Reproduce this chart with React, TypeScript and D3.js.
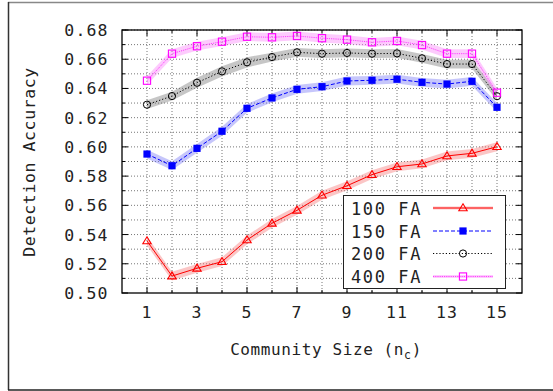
import React from "react";
import * as d3 from "d3";

const communitySizes = [1, 2, 3, 4, 5, 6, 7, 8, 9, 10, 11, 12, 13, 14, 15];
const fa100 = [0.5356, 0.5116, 0.5169, 0.5214, 0.5363, 0.5477, 0.5566, 0.5669, 0.5734, 0.5810, 0.5864, 0.5883, 0.5938, 0.5956, 0.6001];
const fa150 = [0.5951, 0.5871, 0.5990, 0.6107, 0.6264, 0.6335, 0.6394, 0.6412, 0.6451, 0.6456, 0.6463, 0.6442, 0.6430, 0.6449, 0.6271];
const fa200 = [0.6289, 0.6348, 0.6439, 0.6517, 0.6579, 0.6615, 0.6647, 0.6638, 0.6643, 0.6638, 0.6640, 0.6606, 0.6567, 0.6567, 0.6347];
const fa400 = [0.6453, 0.6638, 0.6689, 0.6720, 0.6754, 0.6750, 0.6759, 0.6744, 0.6734, 0.6716, 0.6725, 0.6697, 0.6638, 0.6638, 0.6371];
const err100 = [0.003, 0.003, 0.003, 0.003, 0.003, 0.003, 0.003, 0.003, 0.003, 0.003, 0.003, 0.003, 0.003, 0.003, 0.003];
const err150 = [0.003, 0.003, 0.003, 0.003, 0.003, 0.003, 0.003, 0.003, 0.003, 0.003, 0.003, 0.003, 0.003, 0.003, 0.003];
const err200 = [0.003, 0.003, 0.0035, 0.0035, 0.0035, 0.003, 0.003, 0.003, 0.003, 0.003, 0.003, 0.003, 0.003, 0.003, 0.003];
const err400 = [0.003, 0.003, 0.003, 0.003, 0.003, 0.003, 0.003, 0.003, 0.003, 0.003, 0.003, 0.003, 0.003, 0.003, 0.003];
const seriesNames = ["100 FA", "150 FA", "200 FA", "400 FA"];
const xTickLabels = [1, 3, 5, 7, 9, 11, 13, 15];
const yTickLabels = [0.5, 0.52, 0.54, 0.56, 0.58, 0.6, 0.62, 0.64, 0.66, 0.68];

const FONT = "'DejaVu Sans Mono', monospace";

const styles = [
  { color: "#ff0000", band: "rgba(245,120,120,0.42)", dash: "none", marker: "triangle", lineColor: "#ff0000", legendBand: true },
  { color: "#0000ff", band: "rgba(120,120,245,0.42)", dash: "4,2", marker: "square", lineColor: "#0000ff", legendBand: false },
  { color: "#000000", band: "rgba(120,120,120,0.42)", dash: "1.2,2", marker: "circle", lineColor: "#000000", legendBand: false },
  { color: "#ff00ff", band: "rgba(250,130,250,0.42)", dash: "1.2,1", marker: "opensquare", lineColor: "#ff40ff", legendBand: true },
];

function Marker({ type, x, y, color }: { type: string; x: number; y: number; color: string }) {
  const s = 3.6;
  if (type === "triangle") {
    return <path d={`M${x},${y - s - 0.6}L${x + s + 0.6},${y + s - 0.8}L${x - s - 0.6},${y + s - 0.8}Z`} fill="none" stroke={color} strokeWidth={1.1} />;
  }
  if (type === "square") {
    return <rect x={x - s} y={y - s} width={2 * s} height={2 * s} fill={color} />;
  }
  if (type === "circle") {
    return <circle cx={x} cy={y} r={s} fill="none" stroke={color} strokeWidth={1} />;
  }
  return <rect x={x - s} y={y - s} width={2 * s} height={2 * s} fill="none" stroke={color} strokeWidth={1.1} />;
}

export default function App() {
  const W = 553, H = 391;
  const left = 122, right = 522, top = 30, bottom = 293;
  const x = d3.scaleLinear().domain([0, 16]).range([left, right]);
  const y = d3.scaleLinear().domain([0.5, 0.68]).range([bottom, top]);

  const data = [fa100, fa150, fa200, fa400];
  const errs = [err100, err150, err200, err400];

  const line = d3.line<number>().x((_, i) => x(communitySizes[i])).y((v) => y(v));
  const area = (vals: number[], e: number[]) =>
    d3.area<number>()
      .x((_, i) => x(communitySizes[i]))
      .y0((v, i) => y(v - e[i]))
      .y1((v, i) => y(v + e[i]))(vals) || "";

  const gridX = d3.range(1, 16);
  const gridY = d3.range(0.51, 0.6801, 0.01);
  const minorY = d3.range(0.51, 0.68, 0.02);

  const legendRows = [208, 231, 253.5, 276.5];

  return (
    <svg width={W} height={H} style={{ position: "absolute", left: 0, top: 0 }} fontFamily={FONT}>
      <rect x={0} y={0} width={W} height={H} fill="#fff" />
      <line x1={8} y1={2.5} x2={W} y2={2.5} stroke="#888" strokeWidth={1.5} />
      <line x1={8.5} y1={2} x2={8.5} y2={390} stroke="#333" strokeWidth={1.5} />
      <line x1={8} y1={390} x2={W} y2={390} stroke="#222" strokeWidth={1.5} />

      {/* grid */}
      {gridX.map((v) => (
        <line key={"gx" + v} x1={x(v)} x2={x(v)} y1={top} y2={bottom} stroke="#777" strokeWidth={1} strokeDasharray="1,2" />
      ))}
      {gridY.map((v) => (
        <line key={"gy" + v} x1={left} x2={right} y1={y(v)} y2={y(v)} stroke="#777" strokeWidth={1} strokeDasharray="1,2" />
      ))}

      {/* ticks */}
      {yTickLabels.map((v) => (
        <g key={"yt" + v}>
          <line x1={left} x2={left + 6} y1={y(v)} y2={y(v)} stroke="#000" />
          <line x1={right} x2={right - 6} y1={y(v)} y2={y(v)} stroke="#000" />
          <text x={108.5} y={y(v) + 6} textAnchor="end" fontSize={16.5} letterSpacing={1.1} fill="#222">{v.toFixed(2)}</text>
        </g>
      ))}
      {minorY.map((v) => (
        <g key={"ym" + v}>
          <line x1={left} x2={left + 3} y1={y(v)} y2={y(v)} stroke="#000" />
          <line x1={right} x2={right - 3} y1={y(v)} y2={y(v)} stroke="#000" />
        </g>
      ))}
      {gridX.map((v) => (
        <g key={"xt" + v}>
          <line x1={x(v)} x2={x(v)} y1={bottom} y2={bottom - (v % 2 ? 6 : 3)} stroke="#000" />
          <line x1={x(v)} x2={x(v)} y1={top} y2={top + (v % 2 ? 6 : 3)} stroke="#000" />
        </g>
      ))}
      {xTickLabels.map((v) => (
        <text key={"xl" + v} x={x(v)} y={317.5} textAnchor="middle" fontSize={16.5} letterSpacing={1.1} fill="#222">{v}</text>
      ))}

      {/* bands */}
      {data.map((vals, si) => (
        <path key={"band" + si} d={area(vals, errs[si])} fill={styles[si].band} stroke="none" />
      ))}
      {/* lines */}
      {data.map((vals, si) => (
        <path key={"line" + si} d={line(vals) || ""} fill="none" stroke={styles[si].lineColor} strokeWidth={1} strokeDasharray={styles[si].dash} />
      ))}
      {/* markers */}
      {data.map((vals, si) =>
        vals.map((v, i) => (
          <Marker key={"m" + si + "-" + i} type={styles[si].marker} x={x(communitySizes[i])} y={y(v)} color={styles[si].color} />
        ))
      )}

      <rect x={left} y={top} width={right - left} height={bottom - top} fill="none" stroke="#000" strokeWidth={1.3} />

      {/* legend */}
      <rect x={343.5} y={195.5} width={162} height={93} fill="#fff" stroke="#222" strokeWidth={1} />
      {seriesNames.map((name, si) => (
        <g key={"lg" + si}>
          <text x={351} y={legendRows[si] + 6.5} fontSize={17} letterSpacing={1.6} fill="#222">{name}</text>
          {styles[si].legendBand && (
            <rect x={433} y={legendRows[si] - 1.5} width={60} height={3} fill={styles[si].band} />
          )}
          <line x1={433} x2={493} y1={legendRows[si]} y2={legendRows[si]} stroke={styles[si].lineColor} strokeDasharray={styles[si].dash} />
          <Marker type={styles[si].marker} x={463} y={legendRows[si]} color={styles[si].color} />
        </g>
      ))}

      {/* axis titles */}
      <text x={326} y={355} textAnchor="middle" fontSize={16} letterSpacing={0.6} fill="#222">
        Community Size (n<tspan fontSize={11.5} dy={4}>c</tspan><tspan dy={-4}>)</tspan>
      </text>
      <text transform={`translate(35,162) rotate(-90)`} textAnchor="middle" fontSize={16.5} letterSpacing={0.6} fill="#222">Detection Accuracy</text>
    </svg>
  );
}
